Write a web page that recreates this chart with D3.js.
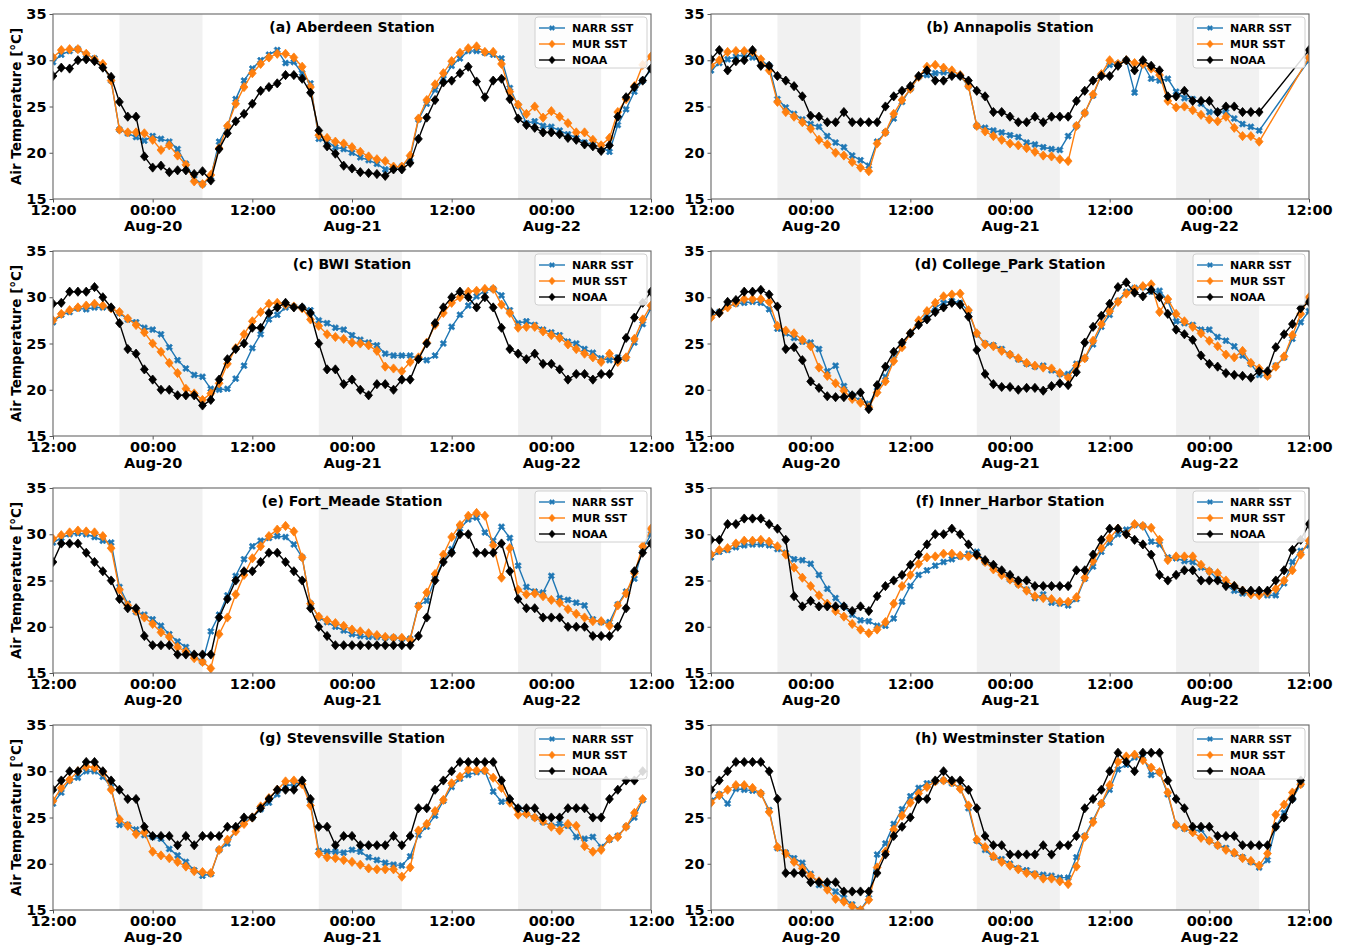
<!DOCTYPE html>
<html>
<head>
<meta charset="utf-8">
<script src="https://cdn.jsdelivr.net/npm/d3@7"></script>
<style>
  body { margin: 0; background: #fff; }
  svg { display: block; font-family: "DejaVu Sans", sans-serif; font-weight: bold; }
</style>
</head>
<body>
<svg id="chart" width="1349" height="952"></svg>
<script>
// Hourly air temperature, 12:00 Aug-19 to 12:00 Aug-22 (73 hourly samples, null = no data)
const stationTitles = [
  "(a) Aberdeen Station", "(b) Annapolis Station",
  "(c) BWI Station", "(d) College_Park Station",
  "(e) Fort_Meade Station", "(f) Inner_Harbor Station",
  "(g) Stevensville Station", "(h) Westminster Station"
];
const seriesNames = ["NARR SST", "MUR SST", "NOAA"];
const seriesColors = ["#1f77b4", "#ff7f0e", "#000000"];
const yTicks = [15, 20, 25, 30, 35];
const xTickHours = [0, 12, 24, 36, 48, 60, 72];
const nightStartHours = [8, 32, 56];   // 20:00 local
const nightLengthHours = 10;            // until 06:00

const aberdeenNarr = [29.8,30.6,31.0,31.2,30.6,30.2,29.4,27.8,22.5,22.1, 21.7,21.3,21.8,21.5,21.2,20.4,18.8,17.2,16.6,17.4, 21.2,22.8,25.8,27.8,29.1,30.0,30.6,31.1,29.7,29.8, 28.6,27.5,21.5,21.2,20.6,20.4,20.0,19.5,19.2,18.8, 18.2,18.3,18.5,19.4,23.6,25.3,26.8,28.0,29.4,30.2, 31.0,31.0,30.8,30.6,30.2,27.0,25.1,23.2,23.4,22.9, 22.8,22.4,22.0,21.6,21.1,20.9,20.6,20.1,23.0,24.7, 26.6,27.8,29.0];
const aberdeenMur = [30.3,31.1,31.2,31.2,30.7,30.1,29.6,27.8,22.5,22.2, 22.2,22.1,21.4,20.3,20.8,19.7,18.7,16.9,16.6,17.6, 20.5,22.9,25.3,27.1,28.6,29.6,30.3,30.7,30.7,30.3, 29.3,27.1,21.9,21.6,21.2,21.0,20.6,20.1,19.6,19.3, 19.1,18.5,18.5,19.7,23.7,25.7,27.4,28.6,29.9,30.8, 31.3,31.5,30.9,30.9,29.6,26.6,25.2,24.2,25.0,23.8, 24.5,23.9,23.2,22.2,22.2,21.4,20.8,21.6,24.4,25.8, 27.2,29.5,30.4];
const aberdeenNoaa = [28.3,29.2,29.1,30.0,30.1,29.9,29.2,28.2,25.5,23.9, 23.9,19.6,18.4,18.6,17.9,18.1,18.1,17.7,18.0,17.0, 20.4,22.1,23.4,24.2,25.3,26.7,27.1,27.5,28.4,28.4, 28.0,26.5,22.4,20.7,19.9,18.6,18.3,17.9,17.8,17.7, 17.5,18.2,18.2,18.9,21.5,23.8,25.7,27.6,27.8,28.6, 29.3,27.7,26.0,27.8,28.0,25.8,23.7,23.0,22.7,22.2, 22.2,22.0,21.6,21.4,20.9,20.7,20.2,20.8,23.9,26.0, 27.1,27.8,29.1];

const annapolisNarr = [28.9,29.7,30.1,30.4,30.6,30.3,30.0,29.4,25.8,24.9, 24.2,23.6,23.1,22.8,21.8,21.1,20.6,19.7,19.2,18.6, 21.2,22.2,23.7,25.5,26.9,28.2,28.4,28.6,28.7,28.6, 28.3,27.2,22.9,22.7,22.4,22.2,21.9,21.7,21.1,20.9, 20.6,20.4,20.3,21.8,22.9,24.3,26.2,28.4,29.5,29.6, 30.0,26.5,29.6,28.0,27.8,28.0,26.6,25.9,25.8,25.3, 24.4,24.4,24.4,23.7,23.1,22.8,22.4,null,null,null, null,null,30.0];
const annapolisMur = [29.4,30.0,30.9,31.0,31.0,30.9,30.1,28.9,25.5,24.4, 23.9,23.3,22.6,21.4,20.9,20.0,19.7,19.0,18.4,18.0, 21.0,22.2,24.2,25.7,26.9,28.2,29.3,29.5,29.2,28.9, 28.4,27.2,22.9,22.3,21.8,21.4,21.0,20.8,20.5,20.1, 19.7,19.6,19.3,19.1,22.9,24.3,26.3,28.5,30.0,29.6, 30.0,29.7,29.6,29.1,28.4,25.6,24.9,25.0,24.6,24.1, 23.6,23.4,23.9,22.7,21.8,21.8,21.2,null,null,null, null,null,30.3];
const annapolisNoaa = [30.1,31.1,28.9,29.9,30.0,31.1,29.4,29.4,28.3,27.8, 27.2,26.1,24.0,23.9,23.3,23.3,24.4,23.3,23.3,23.3, 23.3,25.0,26.1,26.7,27.2,28.3,28.9,27.8,27.8,28.3, 28.3,27.8,26.7,26.1,24.4,24.4,23.9,23.3,23.3,23.9, 23.3,23.9,23.9,23.9,25.6,26.7,27.8,28.3,28.3,29.4, 30.0,28.9,30.0,29.4,28.9,26.1,26.1,26.7,25.6,25.6, 25.6,24.4,25.0,25.0,24.4,24.4,24.4,null,null,null, null,null,31.1];

const bwiNarr = [27.3,28.1,28.4,28.8,28.7,28.9,28.9,28.8,28.3,27.6, 27.3,26.7,26.5,26.0,24.6,23.2,22.3,21.6,21.4,20.1, 20.0,20.1,21.2,22.6,24.5,26.0,27.6,28.1,28.9,29.0, 28.9,28.6,27.5,27.2,26.7,26.5,25.9,25.4,25.1,24.8, 23.9,23.7,23.7,23.7,23.4,23.2,23.7,25.0,26.8,28.1, 29.1,30.1,30.7,30.9,30.2,28.6,27.2,27.4,27.0,26.5, 26.2,25.9,25.2,25.0,24.4,24.0,23.4,23.2,23.5,23.4, 25.1,27.1,28.8];
const bwiMur = [27.5,28.2,28.6,28.9,29.1,29.3,29.1,28.8,28.4,27.7, 27.0,26.2,25.0,24.1,22.9,21.8,20.1,19.6,18.9,19.6, 20.7,22.8,24.5,26.0,27.4,28.4,29.3,29.4,29.2,29.0, 28.8,27.6,26.9,26.0,25.7,25.5,25.1,25.0,24.8,24.2, 22.5,22.3,22.0,23.0,23.5,25.1,27.0,28.3,29.4,30.0, 30.6,30.7,30.9,30.9,29.2,28.3,26.7,26.8,26.8,26.3, 25.9,25.6,24.9,24.4,23.9,23.5,23.0,23.9,23.0,23.5, 25.5,27.6,29.1];
const bwiNoaa = [29.3,29.4,30.6,30.6,30.6,31.1,30.0,28.9,27.2,24.4, 23.9,22.2,21.1,20.0,20.0,19.4,19.4,19.4,18.3,18.9, 21.1,23.3,24.4,25.0,26.7,26.7,28.3,28.9,29.4,28.9, 28.9,28.3,25.0,22.2,22.2,20.6,21.1,20.0,19.4,20.6, 20.6,20.0,21.1,21.1,23.3,25.0,27.2,28.9,30.0,30.6, 30.0,28.9,30.0,28.9,26.7,24.4,23.9,23.3,23.9,22.8, 22.8,22.2,21.1,21.7,21.7,21.1,21.7,21.7,23.3,25.6, 27.8,29.4,30.6];

const collegeParkNarr = [27.9,28.4,29.0,29.3,29.4,29.5,29.4,28.7,26.6,26.1, 25.6,25.2,25.1,24.4,22.0,22.6,20.4,19.4,18.8,18.5, 19.9,21.4,23.3,24.7,26.1,27.2,28.1,28.9,29.4,29.6, 29.4,28.5,26.0,25.0,24.8,24.4,23.8,23.3,22.8,22.5, 22.6,22.1,21.7,21.7,22.8,23.4,24.9,26.8,28.1,29.6, 30.6,31.0,31.1,30.6,30.7,29.6,27.4,27.2,27.0,26.5, 26.5,25.7,25.3,24.7,23.7,22.8,21.6,21.5,22.6,23.5, 25.5,27.3,28.5];
const collegeParkMur = [27.8,28.3,28.9,29.4,29.8,29.8,29.8,29.5,26.9,26.4, 26.1,25.4,24.7,22.4,21.5,20.7,19.9,19.0,18.6,18.1, 19.7,20.9,23.1,24.6,26.1,27.5,28.5,29.4,30.1,30.3, 30.4,28.6,26.1,24.9,24.7,24.2,23.8,23.4,22.9,22.6, 22.4,22.3,21.8,21.3,22.6,23.4,25.3,27.1,28.5,29.5, 30.4,30.9,31.2,31.4,28.4,29.8,28.2,27.4,26.8,26.1, 25.3,24.7,23.8,23.5,24.2,22.9,22.3,21.5,22.5,23.6, 25.9,28.2,30.0];
const collegeParkNoaa = [28.4,28.3,29.5,29.7,30.6,30.6,30.8,30.3,29.0,24.4, 24.6,23.2,20.9,20.2,19.3,19.2,19.2,19.4,19.7,17.9, 20.5,22.5,24.1,25.1,26.1,27.0,27.6,28.4,28.9,29.4, 29.2,27.9,24.3,21.7,20.6,20.3,20.3,20.0,20.2,20.2, 19.9,20.4,20.7,20.5,21.9,25.1,26.8,28.0,29.3,31.1, 31.6,30.5,30.1,30.8,30.0,28.2,26.5,26.0,25.4,23.7, 22.8,22.5,21.8,21.6,21.5,21.3,22.0,22.0,24.6,26.0, 27.1,28.8,29.5];

const fortMeadeNarr = [29.1,29.6,30.0,30.1,30.0,29.7,29.3,29.1,24.3,22.5, 21.6,21.3,20.8,20.1,19.2,18.4,17.8,16.9,16.2,19.5, 21.3,23.4,25.5,27.3,28.7,29.3,29.6,29.8,29.7,28.9, 27.5,22.5,21.0,20.5,20.0,19.6,19.2,19.0,18.9,18.9, 18.8,18.8,18.7,18.7,22.3,22.8,25.2,27.2,28.4,30.6, 31.6,31.8,30.2,29.3,30.8,29.6,26.6,24.3,23.8,23.7, 25.5,23.1,22.9,22.6,22.3,20.8,20.5,20.5,22.4,23.8, 25.2,28.4,30.0];
const fortMeadeMur = [29.5,29.9,30.2,30.4,30.3,30.2,29.8,28.5,24.0,22.3, 21.7,21.0,20.3,19.4,18.9,17.8,17.3,16.6,16.2,15.5, 19.2,21.0,23.5,25.6,27.4,28.7,29.8,30.5,30.9,30.3, 27.5,22.5,21.1,20.7,20.4,20.1,19.7,19.5,19.3,19.1, 18.9,18.8,18.8,18.6,22.2,23.7,25.7,27.8,29.7,31.0, 32.0,32.3,32.0,28.8,25.3,28.5,24.0,23.5,23.6,23.3, 22.9,22.6,21.9,21.4,21.0,20.6,20.6,20.1,22.3,23.6, 25.8,28.7,30.6];
const fortMeadeNoaa = [27,29,29,29,28,27,26,25,23,22, 22,19,18,18,18,17,17,17,17,17, 21,23,25,26,26,27,28,28,27,26, 25,22,20,19,18,18,18,18,18,18, 18,18,18,18,19,21,25,27,28,30, 30,28,28,28,29,26,23,22,22,21, 21,21,20,20,20,19,19,19,20,22, 26,28,29];

const innerHarborNarr = [27.5,28.1,28.3,28.6,28.8,28.9,28.9,28.8,28.4,28.0, 27.3,27.2,26.8,25.6,24.1,23.1,22.2,21.3,20.7,20.6, 20.1,20.1,20.9,22.7,24.4,25.6,26.1,26.6,27.0,27.3, 27.6,27.9,28.1,27.0,26.5,25.8,25.1,24.6,24.0,23.1, 23.5,22.6,22.5,22.3,23.0,25.2,26.5,28.1,29.1,30.0, 30.5,31.0,30.9,29.2,28.9,27.5,27.4,27.1,27.0,26.4, 26.0,25.1,24.5,23.9,23.6,23.6,23.5,23.4,23.4,24.7, 27.0,28.2,28.8];
const innerHarborMur = [27.8,28.3,28.5,29.0,29.3,29.3,29.4,29.2,28.7,27.8, 26.4,25.3,24.4,23.4,22.5,21.7,21.1,20.3,19.7,19.3, 19.7,20.5,22.5,24.4,25.6,26.8,27.5,27.6,27.9,27.9, 27.7,27.6,27.7,27.0,26.2,25.6,25.1,24.6,23.9,23.3, 23.1,23.0,22.7,22.7,23.2,25.3,27.1,28.5,29.6,30.6, 30.0,31.1,30.9,30.7,29.4,27.2,27.6,27.6,27.6,26.7, 26.0,25.8,25.0,24.4,23.9,23.5,23.4,23.7,24.1,25.0, 26.1,27.8,29.3];
const innerHarborNoaa = [29.4,29.4,31.1,31.1,31.7,31.7,31.7,31.1,30.6,29.4, 23.3,22.2,22.8,22.2,22.2,22.2,22.2,21.7,22.2,21.7, 23.3,24.4,25.0,25.6,26.7,27.8,28.9,30.0,30.0,30.6, 30.0,28.9,27.8,27.2,26.7,26.1,25.6,25.0,25.0,24.4, 24.4,24.4,24.4,24.4,26.1,26.1,27.8,29.4,30.6,30.6, 30.0,29.4,28.9,27.8,25.6,25.0,25.6,26.1,26.1,25.0, 25.0,25.0,24.4,24.4,23.9,23.9,23.9,23.9,25.0,26.1, 28.3,29.4,31.1];

const stevensvilleNarr = [26.5,27.7,29.0,29.3,30.0,30.0,29.4,28.3,24.2,24.2, 23.7,23.1,22.9,22.7,21.6,20.9,20.2,19.3,18.7,18.9, 21.5,22.2,23.6,24.5,25.0,25.9,26.6,27.5,28.4,28.6, 28.8,26.5,21.4,21.3,21.3,21.2,21.5,21.3,20.7,20.4, 20.1,19.9,19.8,20.8,23.1,24.0,25.2,26.8,28.3,29.2, 29.6,29.9,30.0,27.8,26.7,26.9,26.0,25.4,25.0,24.5, 24.1,24.3,24.1,22.9,22.7,22.9,21.8,22.6,23.0,24.0, 25.0,26.9,null];
const stevensvilleMur = [26.8,28.2,29.1,30.0,30.5,30.4,29.9,28.0,24.8,24.1, 23.2,23.4,21.3,20.9,20.6,20.2,19.7,19.2,19.1,19.0, 21.5,22.6,23.5,24.3,25.0,26.2,27.1,28.0,28.9,29.0, 28.6,26.3,21.1,20.7,20.6,20.4,20.2,19.9,19.5,19.4, 19.4,19.4,18.6,19.6,23.6,24.3,25.7,26.9,28.7,29.4, 30.2,30.1,30.1,29.3,28.2,26.6,25.3,25.4,25.0,24.6, 24.0,23.6,24.3,24.1,21.9,21.3,21.5,22.7,22.9,24.0, 25.5,27.0,null];
const stevensvilleNoaa = [28,29,30,30,31,31,30,29,28,27, 27,24,23,23,23,22,23,22,23,23, 23,24,24,25,25,26,27,28,28,28, 29,27,24,24,22,23,23,22,22,22, 22,23,22,23,26,26,28,29,30,31, 31,31,31,31,29,27,26,26,26,25, 25,25,26,26,26,25,25,27,28,29, 29,30,null];

const westminsterNarr = [26.8,27.5,26.5,28.1,28.0,27.9,27.6,25.8,21.7,21.2, 20.6,20.1,18.9,17.7,17.6,17.0,16.3,15.6,15.0,16.3, 21.0,22.2,24.3,25.9,27.3,28.2,28.7,28.9,29.0,28.7, 28.2,26.0,22.5,21.5,20.7,20.5,20.0,19.5,19.3,18.9, 18.8,18.7,18.5,18.5,20.7,23.0,24.7,26.5,28.0,30.2, 30.7,31.5,31.6,29.6,29.9,27.5,24.2,23.8,23.5,23.7, 22.5,22.0,21.7,21.1,20.7,20.2,19.6,20.4,24.0,25.5, 27.0,28.6,null];
const westminsterMur = [26.6,27.4,28.0,28.5,28.5,28.2,27.6,25.6,21.8,21.1, 20.2,19.5,18.7,18.1,17.2,16.2,15.9,15.4,15.0,16.1, 19.6,21.3,23.7,25.2,26.6,27.6,28.3,28.9,29.0,28.8, 28.1,26.3,22.6,21.8,20.8,20.2,19.8,19.4,19.0,18.8, 18.4,18.4,18.1,17.8,19.7,22.9,24.5,26.5,28.5,31.0, 31.6,31.8,31.2,30.4,29.9,27.7,24.2,23.9,23.4,22.8, 22.5,22.0,21.5,21.2,20.6,20.3,19.8,21.1,25.3,26.4, 27.7,28.6,null];
const westminsterNoaa = [28,29,30,31,31,31,31,30,27,19, 19,19,18,18,18,18,17,17,17,17, 19,21,23,24,25,27,27,29,30,29, 29,28,26,23,22,22,21,21,21,21, 22,21,22,22,23,26,27,28,30,32, 31,30,32,32,32,29,27,26,24,24, 24,23,23,23,22,22,22,22,24,25, 27,29,null];

const narrSeries = [aberdeenNarr, annapolisNarr, bwiNarr, collegeParkNarr, fortMeadeNarr, innerHarborNarr, stevensvilleNarr, westminsterNarr];
const murSeries  = [aberdeenMur, annapolisMur, bwiMur, collegeParkMur, fortMeadeMur, innerHarborMur, stevensvilleMur, westminsterMur];
const noaaSeries = [aberdeenNoaa, annapolisNoaa, bwiNoaa, collegeParkNoaa, fortMeadeNoaa, innerHarborNoaa, stevensvilleNoaa, westminsterNoaa];

// ---- layout ----
const startTime = Date.UTC(2020, 7, 19, 12);
const hourMs = 3600 * 1000;
const toDate = h => new Date(startTime + h * hourMs);
const columns = [[53, 651], [711, 1309]];
const rowTops = [14, 251, 488, 725];
const plotHeight = 185;

const svg = d3.select("#chart");
const fmtTime = d3.utcFormat("%H:%M");
const fmtDay = d3.utcFormat("%b-%d");

// marker shapes
const diamondPath = "M0,-4.6L3.9,0L0,4.6L-3.9,0Z";
const crossPath = d3.symbol().type(d3.symbolCross).size(26)();

function drawMarker(g, idx, color) {
  if (idx === 0) {
    return g.append("path").attr("d", crossPath).attr("transform", "rotate(45)")
      .attr("fill", color).attr("stroke", color).attr("stroke-width", 0.6);
  }
  return g.append("path").attr("d", diamondPath).attr("fill", color)
    .attr("stroke", color).attr("stroke-width", 0.8);
}

stationTitles.forEach((title, i) => {
  const col = i % 2, row = Math.floor(i / 2);
  const [x0, x1] = columns[col];
  const top = rowTops[row], bottom = top + plotHeight;

  const x = d3.scaleUtc().domain([toDate(0), toDate(72)]).range([x0, x1]);
  const y = d3.scaleLinear().domain([15, 35]).range([bottom, top]);

  const panel = svg.append("g");
  const clipId = "clip" + i;
  panel.append("clipPath").attr("id", clipId)
    .append("rect").attr("x", x0).attr("y", top - 6).attr("width", x1 - x0).attr("height", plotHeight + 6);

  // night-time shading
  panel.selectAll("rect.night").data(nightStartHours).join("rect")
    .attr("class", "night")
    .attr("x", d => x(toDate(d)))
    .attr("width", d => x(toDate(d + nightLengthHours)) - x(toDate(d)))
    .attr("y", top).attr("height", plotHeight)
    .attr("fill", "#f1f1f1");

  // series
  const allSeries = [narrSeries[i], murSeries[i], noaaSeries[i]];
  const plot = panel.append("g").attr("clip-path", `url(#${clipId})`);
  allSeries.forEach((vals, s) => {
    const pts = vals.map((v, h) => ({ h, v })).filter(d => d.v !== null);
    const line = d3.line().x(d => x(toDate(d.h))).y(d => y(d.v));
    plot.append("path").datum(pts).attr("d", line)
      .attr("fill", "none").attr("stroke", seriesColors[s]).attr("stroke-width", 1.4);
    const mk = plot.append("g");
    pts.forEach(d => {
      const g = mk.append("g").attr("transform", `translate(${x(toDate(d.h))},${y(d.v)})`);
      drawMarker(g, s, seriesColors[s]);
    });
  });

  // axes
  const xAxis = d3.axisBottom(x)
    .tickValues(xTickHours.map(toDate))
    .tickSize(3.5).tickPadding(2)
    .tickFormat(d => fmtTime(d));
  const gx = panel.append("g").attr("transform", `translate(0,${bottom})`).call(xAxis);
  gx.select(".domain").remove();
  gx.selectAll(".tick line").attr("stroke", "#555");
  gx.selectAll(".tick text").each(function (d) {
    const t = d3.select(this);
    t.text(null).attr("font-size", 14.5).attr("font-weight", "bold").attr("fill", "#000")
      .attr("font-family", "DejaVu Sans");
    t.append("tspan").attr("x", 0).attr("dy", "0.71em").text(fmtTime(d));
    if (d.getUTCHours() === 0) {
      t.append("tspan").attr("x", 0).attr("dy", "1.15em").text(fmtDay(d));
    }
  });

  const yAxis = d3.axisLeft(y).tickValues(yTicks).tickSize(3.5).tickPadding(3);
  const gy = panel.append("g").attr("transform", `translate(${x0},0)`).call(yAxis);
  gy.select(".domain").remove();
  gy.selectAll(".tick line").attr("stroke", "#555");
  gy.selectAll(".tick text").attr("font-size", 14.5).attr("font-weight", "bold")
    .attr("fill", "#000").attr("font-family", "DejaVu Sans");

  // frame
  panel.append("rect").attr("x", x0).attr("y", top).attr("width", x1 - x0).attr("height", plotHeight)
    .attr("fill", "none").attr("stroke", "#666").attr("stroke-width", 1.1);

  // title
  panel.append("text").attr("x", (x0 + x1) / 2).attr("y", top + 18)
    .attr("text-anchor", "middle").attr("font-size", 14).text(title);

  // y label
  if (col === 0) {
    panel.append("text")
      .attr("transform", `translate(21,${top + plotHeight / 2}) rotate(-90)`)
      .attr("text-anchor", "middle").attr("font-size", 13.5).text("Air Temperature [°C]");
  }

  // legend
  const lg = panel.append("g").attr("transform", `translate(${x1 - 116},${top + 3})`);
  lg.append("rect").attr("width", 112).attr("height", 51).attr("rx", 3)
    .attr("fill", "#fff").attr("fill-opacity", 0.85).attr("stroke", "#d0d0d0");
  seriesNames.forEach((name, s) => {
    const ly = 11 + s * 16;
    lg.append("line").attr("x1", 4).attr("x2", 30).attr("y1", ly).attr("y2", ly)
      .attr("stroke", seriesColors[s]).attr("stroke-width", 1.4);
    const g = lg.append("g").attr("transform", `translate(17,${ly}) scale(0.8)`);
    drawMarker(g, s, seriesColors[s]);
    lg.append("text").attr("x", 37).attr("y", ly + 4).attr("font-size", 11).text(name);
  });
});
</script>
</body>
</html>
